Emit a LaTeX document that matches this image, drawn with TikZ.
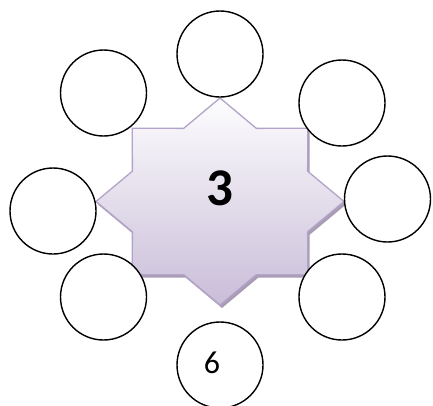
\documentclass[tikz,border=0pt]{standalone}
\usepackage{fontspec}
\newfontfamily\calib{Carlito}
\definecolor{starborder}{HTML}{B3A3C8}
\definecolor{startop}{HTML}{FDFDFE}
\definecolor{starbot}{HTML}{C9BDD8}
\definecolor{starshadow}{HTML}{A99DB6}
\tikzset{
  ring/.style={circle, draw=black, line width=1.4pt, fill=white, minimum size=86pt, inner sep=0pt},
}
\begin{document}
\begin{tikzpicture}[x=1pt,y=-1pt]
\useasboundingbox (0,0) rectangle (433,405);
% shadow
\fill[starshadow] (346,204.5) -- (309.64,234.8) -- (309.68,277.69) -- (258.31,277.65) -- (222,308) -- (185.69,277.65) -- (134.32,277.69) -- (134.36,234.8) -- (98,204.5) -- (134.36,174.2) -- (134.32,131.31) -- (185.69,131.35) -- (222,101) -- (258.31,131.35) -- (309.68,131.31) -- (309.64,174.2) -- cycle;
% star
\path[top color=startop, bottom color=starbot, draw=starborder, line width=1.3pt, line join=miter]
 (344,201.5) -- (307.64,231.8) -- (307.68,274.69) -- (256.31,274.65) -- (220,305) -- (183.69,274.65) -- (132.32,274.69) -- (132.36,231.8) -- (96,201.5) -- (132.36,171.2) -- (132.32,128.31) -- (183.69,128.35) -- (220,98) -- (256.31,128.35) -- (307.68,128.31) -- (307.64,171.2) -- cycle;
\node[font=\calib\bfseries\fontsize{53}{60}\selectfont] (three) at (220,188) {3};
% circles
\node[ring] (ctop) at (220,54) {};
\node[ring] (cul) at (103.5,93) {};
\node[ring] (cur) at (342,103) {};
\node[ring] (cl) at (53,211) {};
\node[ring] (cr) at (387.5,199) {};
\node[ring] (cll) at (103.5,297) {};
\node[ring] (clr) at (342,297) {};
\node[ring] (cb) at (220,365) {};
\node[font=\calib\fontsize{32}{36}\selectfont] (six) at (212,363) {6};
\end{tikzpicture}
\end{document}
